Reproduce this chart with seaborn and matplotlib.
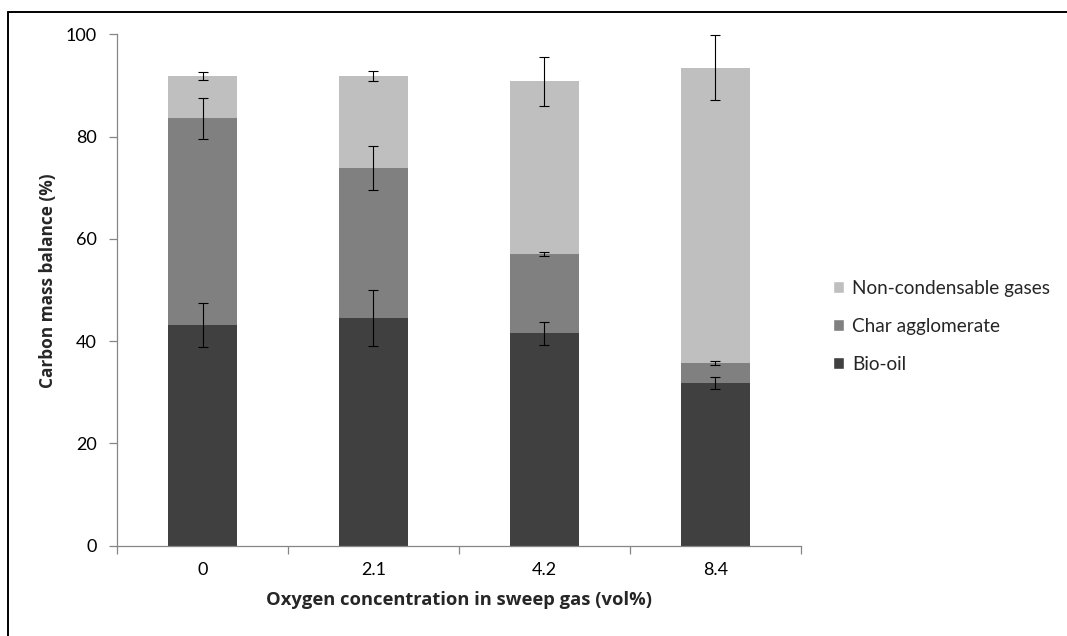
import matplotlib
matplotlib.use("Agg")
import matplotlib.pyplot as plt
from matplotlib.lines import Line2D
from matplotlib.patches import Patch
import numpy as np
import pandas as pd
import seaborn as sns

# Oxygen concentration in sweep gas (vol%)
oxygen = ["0", "2.1", "4.2", "8.4"]

# Carbon mass balance contributions (%)
bio_oil = [43.2, 44.6, 41.5, 31.8]
char_agglomerate = [40.4, 29.3, 15.6, 3.9]
non_condensable = [8.2, 18.0, 33.7, 57.8]

# Standard deviations for each fraction
bio_oil_err = [4.3, 5.5, 2.25, 1.2]
char_err = [4.0, 4.25, 0.35, 0.35]
gas_err = [0.8, 0.95, 4.8, 6.4]

c_bio = "#404040"
c_char = "#808080"
c_gas = "#bfbfbf"
c_axis = "#868686"

sns.set_theme(style="white")
plt.rcParams["font.family"] = ["Lato", "DejaVu Sans"]

df = pd.DataFrame({
    "oxygen": oxygen,
    "bio": bio_oil,
    "char": char_agglomerate,
    "gas": non_condensable,
})
df["lvl1"] = df["bio"]
df["lvl2"] = df["bio"] + df["char"]
df["lvl3"] = df["lvl2"] + df["gas"]

fig = plt.figure(figsize=(10.67, 6.36), dpi=100)
ax = fig.add_axes([0.1097, 0.142, 0.6408, 0.804])

# Stacked bars: draw cumulative totals back to front
for col, color in [("lvl3", c_gas), ("lvl2", c_char), ("lvl1", c_bio)]:
    sns.barplot(data=df, x="oxygen", y=col, color=color, width=0.4,
                saturation=1, ax=ax, edgecolor="none", linewidth=0)

xpos = np.arange(len(oxygen))
for tops, errs in [(df["lvl1"], bio_oil_err), (df["lvl2"], char_err),
                   (df["lvl3"], gas_err)]:
    ax.errorbar(xpos, tops, yerr=errs, fmt="none", ecolor="black",
                elinewidth=0.8, capsize=3.4, capthick=0.8)

ax.set_xlim(-0.5, 3.5)
ax.set_ylim(0, 100)
ax.set_yticks([0, 20, 40, 60, 80, 100])
ax.set_xticks(xpos)
ax.set_xticklabels(oxygen)
ax.set_xticks(np.arange(-0.5, 4.0, 1.0), minor=True)

for side in ["top", "right"]:
    ax.spines[side].set_visible(False)
for side in ["left", "bottom"]:
    ax.spines[side].set_color(c_axis)
    ax.spines[side].set_linewidth(0.9)

ax.tick_params(axis="y", which="major", direction="out", length=5.5,
               width=0.9, color=c_axis, labelsize=13, pad=9,
               left=True, labelcolor="black")
ax.tick_params(axis="x", which="major", length=0, labelsize=13, pad=12,
               labelcolor="black")
ax.tick_params(axis="x", which="minor", direction="out", length=5.5,
               width=0.9, color=c_axis, bottom=True)

bold = ["Open Sans", "DejaVu Sans"]
ax.set_xlabel("Oxygen concentration in sweep gas (vol%)", family=bold,
              size=13.2, weight="bold")
ax.set_ylabel("Carbon mass balance (%)", family=bold, size=12.4,
              weight="bold")
ax.xaxis.set_label_coords(0.5006, -0.0887)
ax.yaxis.set_label_coords(-0.088, 0.518)

handles = [Patch(facecolor=c_gas, label="Non-condensable gases"),
           Patch(facecolor=c_char, label="Char agglomerate"),
           Patch(facecolor=c_bio, label="Bio-oil")]
fig.legend(handles=handles, loc="center left",
           bbox_to_anchor=(0.765, 0.487), frameon=False, fontsize=13.7,
           handlelength=0.58, handleheight=0.58, handletextpad=0.4,
           labelspacing=1.1)

# Outer frame (left and top edges)
fig.add_artist(Line2D([8 / 1067, 8 / 1067], [0, 1 - 12 / 636],
                      transform=fig.transFigure, color="black", lw=1.4))
fig.add_artist(Line2D([8 / 1067, 1], [1 - 12 / 636, 1 - 12 / 636],
                      transform=fig.transFigure, color="black", lw=1.4))

fig.savefig("out.png", dpi=100)
